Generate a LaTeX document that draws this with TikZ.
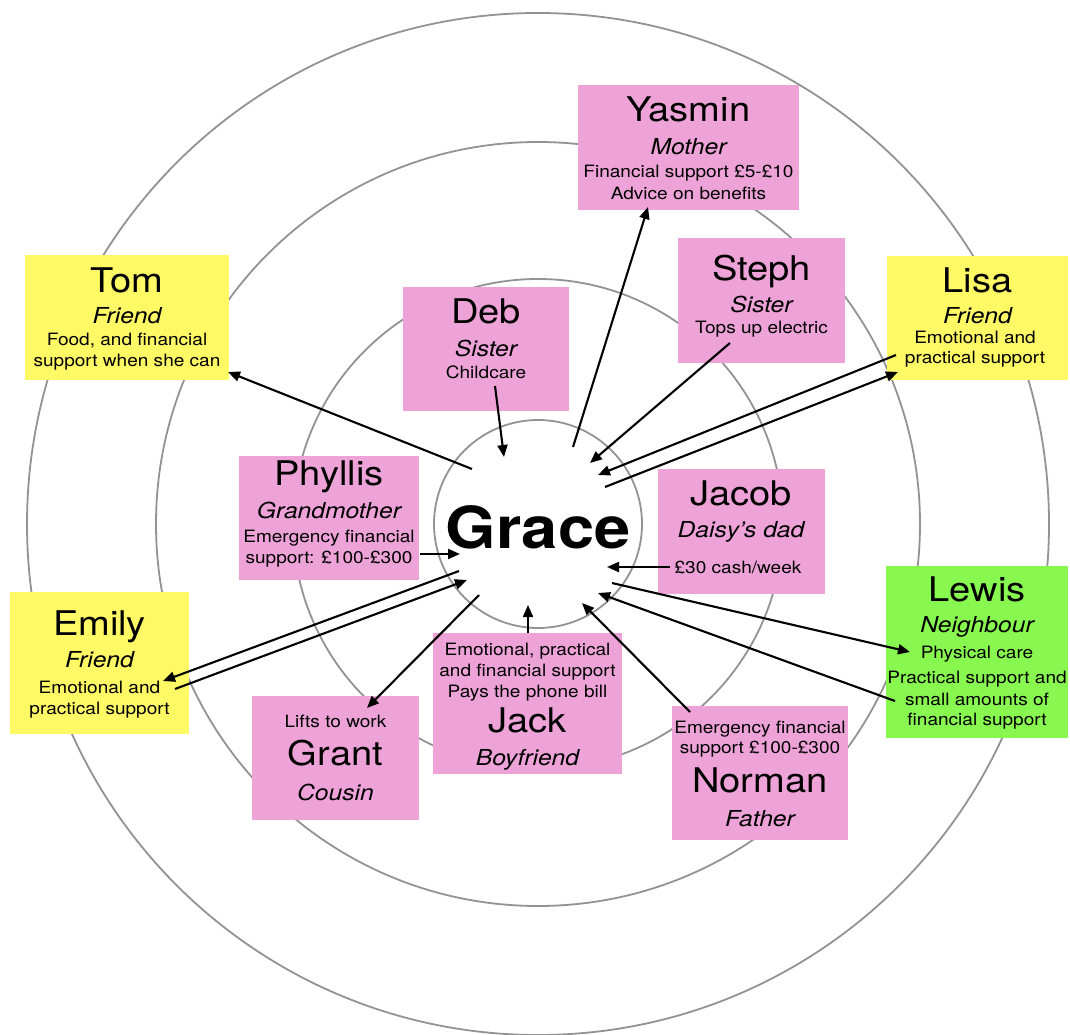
\documentclass[tikz,border=0pt]{standalone}
\usepackage{fontspec}
\setmainfont{TeX Gyre Heros}[FakeStretch=1.12]
\usetikzlibrary{arrows.meta}
\definecolor{pinkc}{HTML}{EDA3D7}
\definecolor{yellowc}{HTML}{FFF966}
\definecolor{greenc}{HTML}{88F74F}
\definecolor{ringc}{HTML}{939393}
\tikzset{
  box/.style={inner sep=0pt, outer sep=0pt, draw=none, rectangle},
  pinkbox/.style={box, fill=pinkc},
  yelbox/.style={box, fill=yellowc},
  grnbox/.style={box, fill=greenc},
  pname/.style={anchor=base, inner sep=0pt, font=\fontsize{34}{34}\selectfont},
  prole/.style={anchor=base, inner sep=0pt, font=\fontsize{22}{22}\selectfont\itshape},
  pdesc/.style={anchor=base, inner sep=0pt, font=\fontsize{17}{17}\selectfont},
  ring/.style={draw=ringc, line width=1.8pt},
  arr/.style={line width=2.1pt, -{Triangle[length=12pt,width=10pt]}}
}
\begin{document}
\begin{tikzpicture}[x=1pt,y=-1pt]
\useasboundingbox (0,0) rectangle (1070,1035);
\fill[white] (0,0) rectangle (1070,1035);
% rings
\draw[ring] (538,524) circle[radius=511pt];
\draw[ring] (538,524) circle[radius=382pt];
\draw[ring] (538,524) circle[radius=245pt];
\node[circle, ring, minimum size=208pt, inner sep=0pt] (core) at (538,524) {};
\node[anchor=base, inner sep=0pt, font=\fontsize{58}{58}\selectfont\bfseries] (grace) at (538,548) {Grace};

% boxes
\node[pinkbox, minimum width=221pt, minimum height=125pt] (yasmin) at (688.5,147.5) {};
\node[pinkbox, minimum width=167pt, minimum height=125pt] (steph) at (761.5,300.5) {};
\node[yelbox, minimum width=181pt, minimum height=124pt] (lisa) at (977.5,318) {};
\node[yelbox, minimum width=204pt, minimum height=125pt] (tom) at (127,317.5) {};
\node[pinkbox, minimum width=166pt, minimum height=124pt] (deb) at (486,349) {};
\node[pinkbox, minimum width=180pt, minimum height=124pt] (phyllis) at (329,518) {};
\node[pinkbox, minimum width=167pt, minimum height=125pt] (jacob) at (741.5,531.5) {};
\node[grnbox, minimum width=182pt, minimum height=172pt] (lewis) at (977,652) {};
\node[pinkbox, minimum width=189pt, minimum height=141pt] (jack) at (527.5,703.5) {};
\node[pinkbox, minimum width=167pt, minimum height=124pt] (grant) at (335.5,758) {};
\node[pinkbox, minimum width=176pt, minimum height=134pt] (norman) at (760,773) {};
\node[yelbox, minimum width=179pt, minimum height=142pt] (emily) at (99.5,663) {};

% texts
\node[pname] (yasmin-n) at (688.5,122) {Yasmin};
\node[prole] (yasmin-r) at (688.5,155) {Mother};
\node[pdesc] (yasmin-d1) at (688.5,178) {Financial support £5-£10};
\node[pdesc] (yasmin-d2) at (688.5,200) {Advice on benefits};

\node[pname] (steph-n) at (761.5,280) {Steph};
\node[prole] (steph-r) at (761.5,312) {Sister};
\node[pdesc] (steph-d1) at (761.5,333) {Tops up electric};

\node[pname] (lisa-n) at (977.5,292) {Lisa};
\node[prole] (lisa-r) at (977.5,323) {Friend};
\node[pdesc] (lisa-d1) at (975,343) {Emotional and};
\node[pdesc] (lisa-d2) at (975,363) {practical support};

\node[pname] (tom-n) at (127,292) {Tom};
\node[prole] (tom-r) at (127,323) {Friend};
\node[pdesc] (tom-d1) at (127,345) {Food, and financial};
\node[pdesc] (tom-d2) at (127,366) {support when she can};

\node[pname] (deb-n) at (486,323) {Deb};
\node[prole] (deb-r) at (486,356) {Sister};
\node[pdesc] (deb-d1) at (486,378) {Childcare};

\node[pname] (phyllis-n) at (329,485) {Phyllis};
\node[prole] (phyllis-r) at (329,518) {Grandmother};
\node[pdesc] (phyllis-d1) at (329,542) {Emergency financial};
\node[pdesc] (phyllis-d2) at (329,563) {support: £100-£300};

\node[pname] (jacob-n) at (741,505) {Jacob};
\node[prole] (jacob-r) at (741,537) {Daisy’s dad};
\node[pdesc] (jacob-d1) at (738,573) {£30 cash/week};

\node[pname] (lewis-n) at (977,601) {Lewis};
\node[prole] (lewis-r) at (977,632) {Neighbour};
\node[pdesc] (lewis-d1) at (977,658) {Physical care};
\node[pdesc] (lewis-d2) at (977,683) {Practical support and};
\node[pdesc] (lewis-d3) at (977,705) {small amounts of};
\node[pdesc] (lewis-d4) at (977,725) {financial support};

\node[pdesc] (jack-d1) at (527.5,655) {Emotional, practical};
\node[pdesc] (jack-d2) at (527.5,676) {and financial support};
\node[pdesc] (jack-d3) at (527.5,697) {Pays the phone bill};
\node[pname] (jack-n) at (527.5,732) {Jack};
\node[prole] (jack-r) at (527.5,765) {Boyfriend};

\node[pdesc] (grant-d1) at (335.5,727) {Lifts to work};
\node[pname] (grant-n) at (335.5,765) {Grant};
\node[prole] (grant-r) at (335.5,800) {Cousin};

\node[pdesc] (norman-d1) at (760,733) {Emergency financial};
\node[pdesc] (norman-d2) at (760,753) {support £100-£300};
\node[pname] (norman-n) at (760,792) {Norman};
\node[prole] (norman-r) at (760,826) {Father};

\node[pname] (emily-n) at (99.5,635) {Emily};
\node[prole] (emily-r) at (99.5,667) {Friend};
\node[pdesc] (emily-d1) at (99.5,693) {Emotional and};
\node[pdesc] (emily-d2) at (99.5,714) {practical support};

% arrow end points
\coordinate (g-tom) at (472,469);   \coordinate (tom-in) at (228,372);
\coordinate (deb-out) at (495,386); \coordinate (g-deb) at (504,457);
\coordinate (g-yas) at (573,447);   \coordinate (yas-in) at (648,207);
\coordinate (steph-out) at (730,343); \coordinate (g-steph) at (590,463);
\coordinate (lisa-out) at (896,355); \coordinate (g-lisa1) at (598,475);
\coordinate (g-lisa2) at (605,487); \coordinate (lisa-in) at (898,372);
\coordinate (phy-out) at (420,554); \coordinate (g-phy) at (460,554);
\coordinate (jacob-out) at (670,567); \coordinate (g-jacob) at (607,567);
\coordinate (g-emily1) at (459,571); \coordinate (emily-in) at (163,681);
\coordinate (emily-out) at (175,689); \coordinate (g-emily2) at (467,580);
\coordinate (g-grant) at (479,595); \coordinate (grant-in) at (367,708);
\coordinate (jack-out) at (528,633); \coordinate (g-jack) at (528,605);
\coordinate (norman-out) at (690,712); \coordinate (g-norman) at (582,603);
\coordinate (g-lewis1) at (612,583); \coordinate (lewis-in) at (910,652);
\coordinate (lewis-out) at (895,701); \coordinate (g-lewis2) at (598,593);

% arrows
\draw[arr] (g-tom) -- (tom-in);
\draw[arr] (deb-out) -- (g-deb);
\draw[arr] (g-yas) -- (yas-in);
\draw[arr] (steph-out) -- (g-steph);
\draw[arr] (lisa-out) -- (g-lisa1);
\draw[arr] (g-lisa2) -- (lisa-in);
\draw[arr] (phy-out) -- (g-phy);
\draw[arr] (jacob-out) -- (g-jacob);
\draw[arr] (g-emily1) -- (emily-in);
\draw[arr] (emily-out) -- (g-emily2);
\draw[arr] (g-grant) -- (grant-in);
\draw[arr] (jack-out) -- (g-jack);
\draw[arr] (norman-out) -- (g-norman);
\draw[arr] (g-lewis1) -- (lewis-in);
\draw[arr] (lewis-out) -- (g-lewis2);
\end{tikzpicture}
\end{document}
